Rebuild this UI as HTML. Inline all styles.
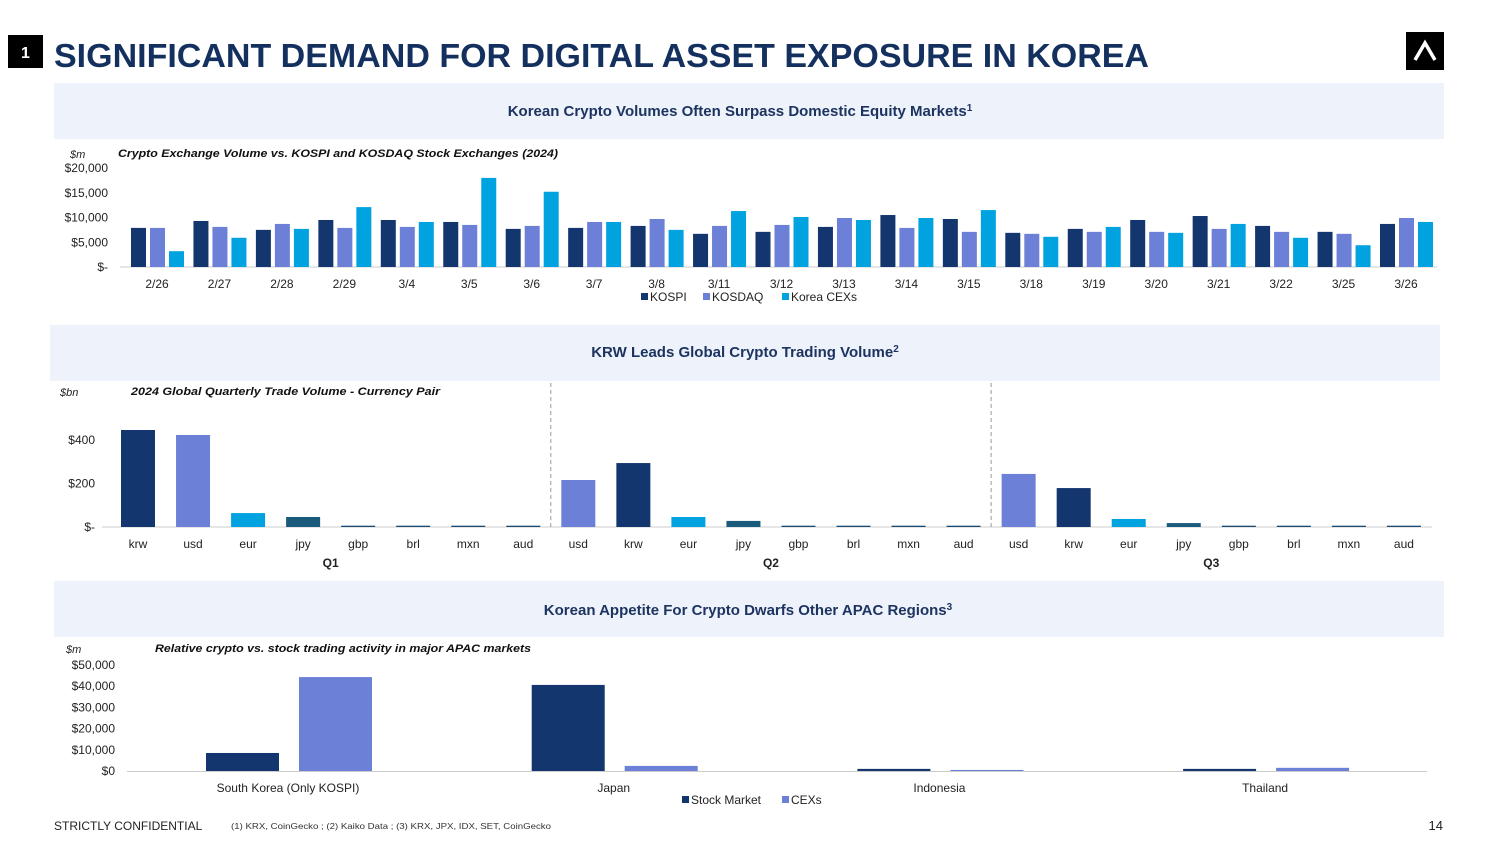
<!DOCTYPE html>
<html><head><meta charset="utf-8"><style>
body{margin:0;background:#fff;width:1500px;height:844px;overflow:hidden;font-family:"Liberation Sans",Arial,sans-serif}
svg{display:block}
</style></head><body>
<svg id="s" width="1500" height="844" xmlns="http://www.w3.org/2000/svg" font-family="Liberation Sans, Arial, sans-serif">
<rect x="8" y="35" width="35" height="33" fill="#000"/>
<text x="25.5" y="58" fill="#fff" font-size="16" font-weight="bold" text-anchor="middle">1</text>
<text x="54" y="67" fill="#14305e" font-size="33" font-weight="bold" textLength="1095" lengthAdjust="spacingAndGlyphs">SIGNIFICANT DEMAND FOR DIGITAL ASSET EXPOSURE IN KOREA</text>
<rect x="1406" y="32" width="38" height="38" fill="#000"/>
<path d="M1415 60 L1425 43 L1435 60" stroke="#fff" stroke-width="3.5" fill="none"/>

<rect x="54" y="83" width="1390" height="56" fill="#eef2fa"/>
<text x="740" y="116" font-size="15" font-weight="bold" fill="#1d3461" text-anchor="middle">Korean Crypto Volumes Often Surpass Domestic Equity Markets<tspan font-size="10" dy="-5">1</tspan></text>
<rect x="50" y="325" width="1390" height="56" fill="#eef2fa"/>
<text x="745" y="357" font-size="15" font-weight="bold" fill="#1d3461" text-anchor="middle">KRW Leads Global Crypto Trading Volume<tspan font-size="10" dy="-5">2</tspan></text>
<rect x="54" y="581" width="1390" height="56" fill="#eef2fa"/>
<text x="748" y="615" font-size="15" font-weight="bold" fill="#1d3461" text-anchor="middle">Korean Appetite For Crypto Dwarfs Other APAC Regions<tspan font-size="10" dy="-5">3</tspan></text>

<text x="70" y="158" font-size="11" font-style="italic" fill="#222">$m</text>
<text x="118" y="157" font-size="11" font-style="italic" font-weight="bold" fill="#111" textLength="440" lengthAdjust="spacingAndGlyphs">Crypto Exchange Volume vs. KOSPI and KOSDAQ Stock Exchanges (2024)</text>
<text x="60" y="396" font-size="11" font-style="italic" fill="#222">$bn</text>
<text x="131" y="395" font-size="11" font-style="italic" font-weight="bold" fill="#111" textLength="309" lengthAdjust="spacingAndGlyphs">2024 Global Quarterly Trade Volume - Currency Pair</text>
<text x="66" y="653" font-size="11" font-style="italic" fill="#222">$m</text>
<text x="155" y="652" font-size="11" font-style="italic" font-weight="bold" fill="#111" textLength="376" lengthAdjust="spacingAndGlyphs">Relative crypto vs. stock trading activity in major APAC markets</text>

<g id="c1"></g><g id="c2"></g><g id="c3"></g>

<text x="54" y="830" font-size="12" fill="#222">STRICTLY CONFIDENTIAL</text>
<text x="231" y="829" font-size="8.5" fill="#333" textLength="320" lengthAdjust="spacingAndGlyphs">(1) KRX, CoinGecko ; (2) Kaiko Data ; (3) KRX, JPX, IDX, SET, CoinGecko</text>
<text x="1443" y="830" font-size="13" fill="#222" text-anchor="end">14</text>
</svg>
<script>
// Chart 1 data ($m)
const c1Dates=["2/26","2/27","2/28","2/29","3/4","3/5","3/6","3/7","3/8","3/11","3/12","3/13","3/14","3/15","3/18","3/19","3/20","3/21","3/22","3/25","3/26"];
const c1Kospi=[7900,9300,7500,9500,9500,9100,7700,7900,8300,6700,7100,8100,10500,9700,6900,7700,9500,10300,8300,7100,8700];
const c1Kosdaq=[7900,8100,8700,7900,8100,8500,8300,9100,9700,8300,8500,9900,7900,7100,6700,7100,7100,7700,7100,6700,9900];
const c1Cex=[3200,5900,7700,12100,9100,18000,15200,9100,7500,11300,10100,9500,9900,11500,6100,8100,6900,8700,5900,4400,9100];
const c1Ticks=[0,5000,10000,15000,20000];
const c1TickLabels=["$-","$5,000","$10,000","$15,000","$20,000"];
// Chart 2 data ($bn)
const c2Cats=["krw","usd","eur","jpy","gbp","brl","mxn","aud","usd","krw","eur","jpy","gbp","brl","mxn","aud","usd","krw","eur","jpy","gbp","brl","mxn","aud"];
const c2Vals=[446,423,64,46,6,6,6,6,216,294,46,28,6,6,6,6,244,179,37,18,6,6,6,6];
const c2Quarters=["Q1","Q2","Q3"];
const c2Ticks=[0,200,400];
const c2TickLabels=["$-","$200","$400"];
// Chart 3 data ($m)
const c3Cats=["South Korea (Only KOSPI)","Japan","Indonesia","Thailand"];
const c3Stock=[8500,40600,1000,1000];
const c3Cex=[44300,2400,500,1500];
const c3Ticks=[0,10000,20000,30000,40000,50000];
const c3TickLabels=["$0","$10,000","$20,000","$30,000","$40,000","$50,000"];

const NS="http://www.w3.org/2000/svg";
function mk(p,tag,at,txt){const e=document.createElementNS(NS,tag);for(const k in at)e.setAttribute(k,at[k]);if(txt!==undefined)e.textContent=txt;p.appendChild(e);return e;}
const NAVY="#14366e",PURP="#6b80d6",CYAN="#00a3e0",TEAL="#1a5a7c";

(function(){
const g=document.getElementById('c1');
const y=v=>267-v/20000*99;
const x=i=>157+i*62.45;
c1Ticks.forEach((t,i)=>{const e=mk(g,'text',{x:108,y:y(t)+4,'font-size':12,fill:'#222','text-anchor':'end'},c1TickLabels[i]);
});
const ax=mk(g,'line',{x1:120,x2:1437,y1:267,y2:267,stroke:'#ccc'});

const series=[[c1Kospi,NAVY,'kospi'],[c1Kosdaq,PURP,'kosdaq'],[c1Cex,CYAN,'cex']];
c1Dates.forEach((d,i)=>{
 series.forEach((s,j)=>{const v=s[0][i];const r=mk(g,'rect',{x:x(i)-26+j*19,y:y(v),width:15,height:267-y(v),fill:s[1]});
 });
 const t=mk(g,'text',{x:x(i),y:288,'font-size':12,fill:'#222','text-anchor':'middle'},d);
 
});
const leg=[["KOSPI",NAVY,641],["KOSDAQ",PURP,703],["Korea CEXs",CYAN,782]];
leg.forEach(l=>{const r=mk(g,'rect',{x:l[2],y:293,width:7,height:7,fill:l[1]});

const t=mk(g,'text',{x:l[2]+9,y:301,'font-size':12,fill:'#222'},l[0]);
});
})();

(function(){
const g=document.getElementById('c2');
const y=v=>527-v/400*87;
const x=i=>138+i*55.04;
c2Ticks.forEach((t,i)=>{const e=mk(g,'text',{x:95,y:y(t)+4,'font-size':12,fill:'#222','text-anchor':'end'},c2TickLabels[i]);
});
const ax=mk(g,'line',{x1:102,x2:1432,y1:527,y2:527,stroke:'#ccc'});

[0,1].forEach(k=>{const xx=(x(7+8*k)+x(8+8*k))/2;const l=mk(g,'line',{x1:xx,x2:xx,y1:383,y2:527,stroke:'#999','stroke-dasharray':'4,3'});
});
const col={krw:NAVY,usd:PURP,eur:CYAN,jpy:TEAL};
c2Cats.forEach((c,i)=>{const v=c2Vals[i];
 const r=mk(g,'rect',{x:x(i)-17,y:y(v),width:34,height:527-y(v),fill:col[c]||'#1a4a72'});
 
 const t=mk(g,'text',{x:x(i),y:548,'font-size':12,fill:'#222','text-anchor':'middle'},c);
 });
c2Quarters.forEach((q,k)=>{const t=mk(g,'text',{x:(x(8*k)+x(8*k+7))/2,y:567,'font-size':12,'font-weight':'bold',fill:'#222','text-anchor':'middle'},q);
});
})();

(function(){
const g=document.getElementById('c3');
const y=v=>771-v/50000*106;
const x=i=>289+i*325.7;
c3Ticks.forEach((t,i)=>{const e=mk(g,'text',{x:115,y:y(t)+4,'font-size':12,fill:'#222','text-anchor':'end'},c3TickLabels[i]);
});
const ax=mk(g,'line',{x1:127,x2:1427,y1:771.5,y2:771.5,stroke:'#ccc'});

c3Cats.forEach((c,i)=>{
 const a=mk(g,'rect',{x:x(i)-83,y:y(c3Stock[i]),width:73,height:771-y(c3Stock[i]),fill:NAVY});
 
 const b=mk(g,'rect',{x:x(i)+10,y:y(c3Cex[i]),width:73,height:771-y(c3Cex[i]),fill:PURP});
 
 const t=mk(g,'text',{x:x(i)-1,y:792,'font-size':12,fill:'#222','text-anchor':'middle'},c);
 });
const leg=[["Stock Market",NAVY,682],["CEXs",PURP,782]];
leg.forEach(l=>{const r=mk(g,'rect',{x:l[2],y:796,width:7,height:7,fill:l[1]});

const t=mk(g,'text',{x:l[2]+9,y:804,'font-size':12,fill:'#222'},l[0]);
});
})();
</script>
</body></html>
